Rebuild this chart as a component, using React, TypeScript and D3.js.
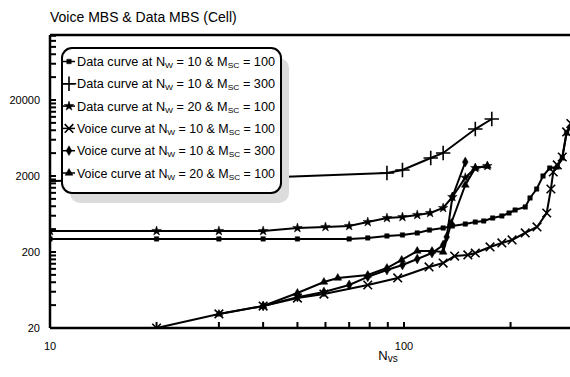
import * as d3 from "d3"

const title = "Voice MBS & Data MBS (Cell)"
const xTickValues = [10, 100]
const yTickValues = [20, 200, 2000, 20000]

// Data curve at Nw = 10 & Msc = 100
const data10x100X = [10, 20, 30, 40, 50, 70, 79, 89.5, 99, 109, 118, 129, 137, 149, 159, 168, 178, 189, 198, 206, 220, 227, 237, 247, 258, 271, 280, 288, 296]
const data10x100Y = [297, 297, 297, 297, 297, 297, 306, 325, 335, 356, 389, 414, 440, 467, 496, 512, 560, 596, 652, 714, 782, 1028, 1349, 2000, 2548, 2625, 3450, 7360, 8800]

// Data curve at Nw = 10 & Msc = 300
const data10x300X = [10, 20, 30, 44.6, 89.5, 99, 119, 129, 159, 177]
const data10x300Y = [1718, 1800, 1860, 1941, 2190, 2398, 3450, 4017, 8300, 11250]

// Data curve at Nw = 20 & Msc = 100
const data20x100X = [10, 20, 30, 40, 50, 60, 70, 79, 89.5, 99, 109, 118.5, 129, 137, 149, 159, 172]
const data20x100Y = [378, 378, 378, 378, 414, 427, 440, 496, 560, 577, 614, 652, 759, 1059, 1900, 2548, 2710]

// Voice curve at Nw = 10 & Msc = 100
const voice10x100X = [20, 30, 40, 50, 59.4, 79, 96, 117.7, 129, 139, 151.5, 159, 175, 189, 202, 220, 237.5, 253, 260, 264, 271, 280, 288, 296]
const voice10x100Y = [20, 30.6, 38.9, 49.6, 56, 73.6, 91, 127, 143, 177, 183, 194, 233, 263, 288, 356, 427, 652, 1349, 2258, 2793, 3557, 7590, 9800]

// Voice curve at Nw = 10 & Msc = 300
const voice10x300X = [40, 50, 59.4, 70, 79, 89.5, 99, 109, 120, 129, 132, 137, 149]
const voice10x300Y = [38.9, 51, 59.5, 73.6, 94, 116, 135, 162, 194, 247, 315, 1059, 3056]

// Voice curve at Nw = 20 & Msc = 100
const voice20x100X = [30, 40, 50, 59.4, 65, 79, 89.5, 98.5, 109, 120, 129, 136, 149, 159, 172]
const voice20x100Y = [30.6, 38.9, 57.8, 80.6, 91, 99.6, 123, 157, 206, 206, 200, 482, 1524, 2548, 2710]

type Mark = { type: d3.SymbolType; size: number; fill: boolean }

const series = [
  { name: "Data curve at N", n: "W", nv: "10", mv: "100", xs: data10x100X, ys: data10x100Y, mark: { type: d3.symbolSquare, size: 20, fill: true } as Mark },
  { name: "Data curve at N", n: "W", nv: "10", mv: "300", xs: data10x300X, ys: data10x300Y, mark: { type: d3.symbolPlus, size: 70, fill: false } as Mark },
  { name: "Data curve at N", n: "W", nv: "20", mv: "100", xs: data20x100X, ys: data20x100Y, mark: { type: d3.symbolStar, size: 28, fill: true } as Mark },
  { name: "Voice curve at N", n: "W", nv: "10", mv: "100", xs: voice10x100X, ys: voice10x100Y, mark: { type: d3.symbolTimes, size: 50, fill: false } as Mark },
  { name: "Voice curve at N", n: "W", nv: "10", mv: "300", xs: voice10x300X, ys: voice10x300Y, mark: { type: d3.symbolDiamond, size: 28, fill: true } as Mark },
  { name: "Voice curve at N", n: "W", nv: "20", mv: "100", xs: voice20x100X, ys: voice20x100Y, mark: { type: d3.symbolTriangle, size: 26, fill: true } as Mark },
]

const width = 570
const height = 377
const plotTop = 35

export default function App() {
  const x = d3.scaleLog().domain([10, 100]).range([50, 404])
  const y = d3.scaleLog().domain([20, 20000]).range([328, 100])
  const left = x(10)
  const bottom = y(20)
  const xMax = x.invert(width)
  const yMax = y.invert(plotTop)

  // minor ticks at every 1..9 step of each decade
  const xMinor: number[] = []
  for (let p = 10; p < xMax; p *= 10) for (let m = 1; m < 10; m++) if (p * m <= xMax) xMinor.push(p * m)
  const yMinor: number[] = []
  for (let p = 20; p < yMax; p *= 10) for (let m = 1; m < 10; m++) if (p * m <= yMax) yMinor.push(p * m)

  const line = d3
    .line<[number, number]>()
    .x((d) => x(d[0]))
    .y((d) => y(d[1]))

  const sym = (m: Mark) => d3.symbol().type(m.type).size(m.size)() || ""

  const lg = { x: 62, y: 48, w: 219, h: 145, row: 22.3 }

  return (
    <svg width={width} height={height} style={{ position: "absolute", left: 0, top: 0 }} fontFamily="'Liberation Sans', Arial, sans-serif">
      <rect width={width} height={height} fill="white" />
      <defs>
        <clipPath id="plot">
          <rect x={left} y={plotTop} width={width - left} height={bottom - plotTop} />
        </clipPath>
      </defs>
      <text x={50} y={22} fontSize={14} fill="#000">{title}</text>

      {/* curves */}
      <g clipPath="url(#plot)">
        {series.map((s, i) => {
          const pts = s.xs.map((v, j) => [v, s.ys[j]] as [number, number])
          return (
            <g key={i}>
              <path d={line(pts) || ""} fill="none" stroke="#000" strokeWidth={2} />
              {pts.map((p, j) => (
                <path
                  key={j}
                  d={sym(s.mark)}
                  transform={`translate(${x(p[0])},${y(p[1])})`}
                  fill={s.mark.fill ? "#000" : "none"}
                  stroke="#000"
                  strokeWidth={s.mark.fill ? 0.5 : 1.6}
                />
              ))}
            </g>
          )
        })}
      </g>

      {/* frame and ticks */}
      <line x1={left} x2={width} y1={plotTop} y2={plotTop} stroke="#000" strokeWidth={2.5} />
      <line x1={left} x2={left} y1={plotTop} y2={bottom} stroke="#000" strokeWidth={2.5} />
      <line x1={left} x2={width} y1={bottom} y2={bottom} stroke="#000" strokeWidth={2.5} />
      {yMinor.map((v, i) => (
        <line key={i} x1={left} x2={left + 6} y1={y(v)} y2={y(v)} stroke="#000" strokeWidth={2} />
      ))}
      {xMinor.map((v, i) => (
        <line key={i} x1={x(v)} x2={x(v)} y1={bottom} y2={bottom - 6} stroke="#000" strokeWidth={2} />
      ))}
      {yTickValues.map((v) => (
        <text key={v} x={40} y={y(v)} dy="0.35em" textAnchor="end" fontSize={11}>{v}</text>
      ))}
      {xTickValues.map((v) => (
        <text key={v} x={x(v)} y={bottom + 22} textAnchor="middle" fontSize={11}>{v}</text>
      ))}
      <text x={388} y={360} textAnchor="middle" fontSize={13}>
        N<tspan fontSize={10} dy={2}>vs</tspan>
      </text>

      {/* legend */}
      <rect x={lg.x + 8} y={lg.y + 10} width={lg.w} height={lg.h} rx={10} fill="#dcdcdc" />
      <rect x={lg.x} y={lg.y} width={lg.w} height={lg.h} rx={10} fill="white" stroke="#000" strokeWidth={2} />
      {series.map((s, i) => {
        const cy = lg.y + 13.5 + i * lg.row
        return (
          <g key={i}>
            <line x1={lg.x + 1} x2={lg.x + 13} y1={cy} y2={cy} stroke="#000" strokeWidth={1.5} />
            <path
              d={sym(s.mark)}
              transform={`translate(${lg.x + 7},${cy})`}
              fill={s.mark.fill ? "#000" : "none"}
              stroke="#000"
              strokeWidth={s.mark.fill ? 0.5 : 1.6}
            />
            <text x={lg.x + 15} y={cy} dy="0.38em" fontSize={12} textLength={198} lengthAdjust="spacingAndGlyphs">
              {s.name}
              <tspan fontSize={8} dy={2}>{s.n}</tspan>
              <tspan dy={-2}>{` = ${s.nv} & M`}</tspan>
              <tspan fontSize={8} dy={2}>SC</tspan>
              <tspan dy={-2}>{` = ${s.mv}`}</tspan>
            </text>
          </g>
        )
      })}
    </svg>
  )
}
